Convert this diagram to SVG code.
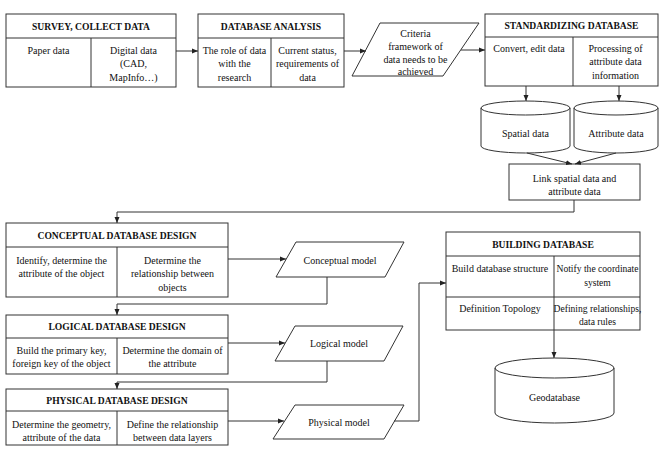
<svg xmlns="http://www.w3.org/2000/svg" width="660" height="455" viewBox="0 0 660 455" font-family="'Liberation Serif', 'DejaVu Serif', serif">
<style>
.b{fill:#fff;stroke:#333;stroke-width:1}
.l{fill:none;stroke:#333;stroke-width:1}
.c{stroke:#333;stroke-width:1;fill:none}
text{font-family:'Liberation Serif','DejaVu Serif',serif;font-size:10px;fill:#111;text-anchor:middle}
.h{font-weight:bold;font-size:9.6px}
.s{font-size:9.6px}
</style>
<defs>
<marker id="a" markerUnits="userSpaceOnUse" markerWidth="6" markerHeight="6" refX="6" refY="3" orient="auto">
<path d="M0,0.5 L6,3 L0,5.5 z" fill="#222"/>
</marker>
</defs>
<rect width="660" height="455" fill="#fff"/>
<g id="survey">
<rect class="b" x="6" y="14" width="170" height="73"/>
<path class="l" d="M6,38H176M91,38V87"/>
<text class="h" x="91" y="29.5">SURVEY, COLLECT DATA</text>
<text x="48.5" y="53.5">Paper data</text>
<text x="133.5" y="53.5">Digital data</text>
<text x="133.5" y="67">(CAD,</text>
<text x="133.5" y="80.5">MapInfo…)</text>
</g>
<g id="analysis">
<rect class="b" x="198" y="14" width="146" height="73"/>
<path class="l" d="M198,38H344M271,38V87"/>
<text class="h" x="271" y="29.5">DATABASE ANALYSIS</text>
<text x="234.5" y="53.5">The role of data</text>
<text x="234.5" y="67">with the</text>
<text x="234.5" y="80.5">research</text>
<text x="307.5" y="53.5">Current status,</text>
<text x="307.5" y="67">requirements of</text>
<text x="307.5" y="80.5">data</text>
</g>
<g id="criteria">
<polygon class="b" points="380,23 479,23 443,76 352,76"/>
<text x="415.5" y="36.5">Criteria</text>
<text x="415.5" y="49.5">framework of</text>
<text x="415.5" y="62.5">data needs to be</text>
<text x="415.5" y="74.5">achieved</text>
</g>
<g id="standardizing">
<rect class="b" x="485" y="14" width="173" height="72"/>
<path class="l" d="M485,37H658M573,37V86"/>
<text class="h" x="571.5" y="28.5">STANDARDIZING DATABASE</text>
<text x="529" y="51.5">Convert, edit data</text>
<text x="615.5" y="51.5">Processing of</text>
<text x="615.5" y="65">attribute data</text>
<text x="615.5" y="78.5">information</text>
</g>
<g id="spatial">
<path class="b" d="M481,108 A44.5,7 0 0 1 570,108 V146 A44.5,7 0 0 1 481,146 Z"/>
<path class="l" d="M481,108 A44.5,7 0 0 0 570,108"/>
<text x="525.5" y="136.5">Spatial data</text>
</g>
<g id="attribute">
<path class="b" d="M574,108 A42,7 0 0 1 658,108 V146 A42,7 0 0 1 574,146 Z"/>
<path class="l" d="M574,108 A42,7 0 0 0 658,108"/>
<text x="616" y="136.5">Attribute data</text>
</g>
<g id="link">
<rect class="b" x="509" y="164" width="131" height="36"/>
<text x="574.5" y="181.5">Link spatial data and</text>
<text x="574.5" y="195">attribute data</text>
</g>
<g id="conceptual">
<rect class="b" x="6" y="223" width="222" height="74"/>
<path class="l" d="M6,247H228M117,247V297"/>
<text class="h" x="117" y="238.5">CONCEPTUAL DATABASE DESIGN</text>
<text x="61.5" y="263.5">Identify, determine the</text>
<text x="61.5" y="277">attribute of the object</text>
<text x="172.5" y="263.5">Determine the</text>
<text x="172.5" y="277">relationship between</text>
<text x="172.5" y="291">objects</text>
</g>
<g id="conceptual-model">
<polygon class="b" points="296,242 404,242 385,277 276,277"/>
<text x="340" y="263.5">Conceptual model</text>
</g>
<g id="logical">
<rect class="b" x="6" y="315" width="222" height="59"/>
<path class="l" d="M6,338H228M117,338V374"/>
<text class="h" x="117" y="329.5">LOGICAL DATABASE DESIGN</text>
<text x="61.5" y="353.5">Build the primary key,</text>
<text x="61.5" y="367">foreign key of the object</text>
<text x="172.5" y="353.5">Determine the domain of</text>
<text x="172.5" y="367">the attribute</text>
</g>
<g id="logical-model">
<polygon class="b" points="295,326 403,326 384,361 275,361"/>
<text x="339" y="347">Logical model</text>
</g>
<g id="physical">
<rect class="b" x="6" y="389" width="222" height="56"/>
<path class="l" d="M6,411H228M117,411V445"/>
<text class="h" x="117" y="403.5">PHYSICAL DATABASE DESIGN</text>
<text x="61.5" y="428">Determine the geometry,</text>
<text x="61.5" y="440.5">attribute of the data</text>
<text x="172.5" y="428">Define the relationship</text>
<text x="172.5" y="440.5">between data layers</text>
</g>
<g id="physical-model">
<polygon class="b" points="295,405 404,405 384,439 273,439"/>
<text x="339" y="425.5">Physical model</text>
</g>
<g id="building">
<rect class="b" x="446" y="232" width="194" height="98"/>
<path class="l" d="M446,256H640M446,297H640M554,256V330"/>
<text class="h" x="543" y="247.5">BUILDING DATABASE</text>
<text x="500" y="272">Build database structure</text>
<text class="s" x="597.5" y="272">Notify the coordinate</text>
<text class="s" x="597.5" y="285.5">system</text>
<text x="500" y="311.5">Definition Topology</text>
<text class="s" x="597.5" y="311.5">Defining relationships,</text>
<text class="s" x="597.5" y="324.5">data rules</text>
</g>
<g id="geodatabase">
<path class="b" d="M495,368 A59.5,10 0 0 1 614,368 V413 A59.5,10 0 0 1 495,413 Z"/>
<path class="l" d="M495,368 A59.5,10 0 0 0 614,368"/>
<text x="554.5" y="400.5">Geodatabase</text>
</g>
<g id="connectors">
<path class="c" d="M176,51H198" marker-end="url(#a)"/>
<path class="c" d="M344,51H366" marker-end="url(#a)"/>
<path class="c" d="M461,50H485" marker-end="url(#a)"/>
<path class="c" d="M526,86V101" marker-end="url(#a)"/>
<path class="c" d="M619,86V101" marker-end="url(#a)"/>
<path class="c" d="M527,153L572,164" marker-end="url(#a)"/>
<path class="c" d="M616,153L575,164" marker-end="url(#a)"/>
<path class="c" d="M574,200V212H117V223" marker-end="url(#a)"/>
<path class="c" d="M228,259H286" marker-end="url(#a)"/>
<path class="c" d="M327,277V304H117V315" marker-end="url(#a)"/>
<path class="c" d="M228,343H285" marker-end="url(#a)"/>
<path class="c" d="M327,361V382H117V389" marker-end="url(#a)"/>
<path class="c" d="M228,421H284" marker-end="url(#a)"/>
<path class="c" d="M394,421H419V283H446" marker-end="url(#a)"/>
<path class="c" d="M554,330V358" marker-end="url(#a)"/>
</g>
</svg>
